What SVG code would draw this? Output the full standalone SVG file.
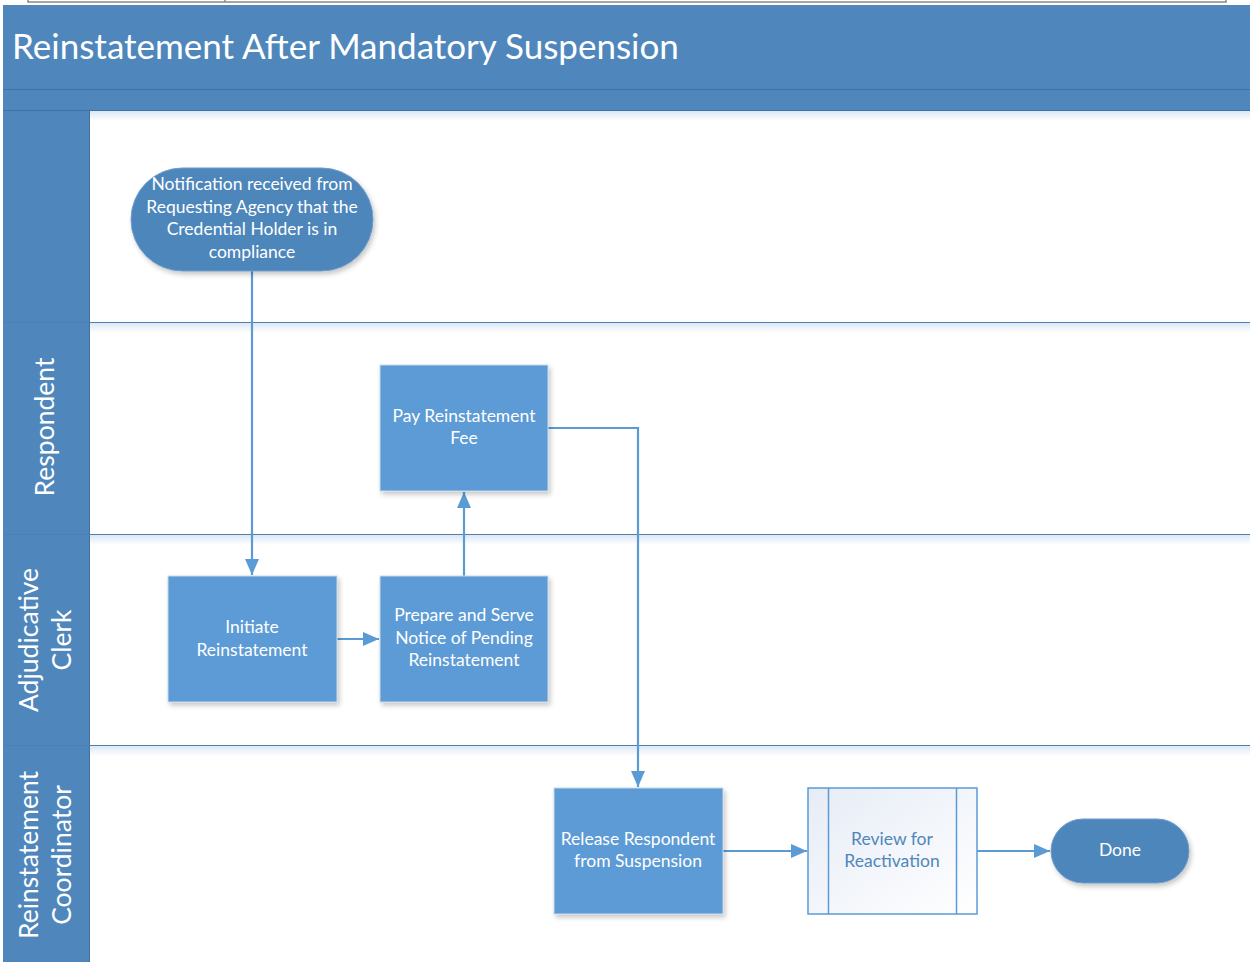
<svg xmlns="http://www.w3.org/2000/svg" width="1250" height="962" viewBox="0 0 1250 962">
  <style>
    .lbl { font-family: Lato, "Open Sans", "Liberation Sans", sans-serif; font-size: 17.5px; fill: #ffffff; text-anchor: middle; }
    .lane { font-family: Lato, "Open Sans", "Liberation Sans", sans-serif; font-size: 26.5px; fill: #ffffff; text-anchor: middle; }
    .proc { fill: #5B9BD5; stroke: #c9d9ea; stroke-width: 1; filter: url(#shadow); }
    .term { fill: #4E86BB; stroke: #6f9ccb; stroke-width: 1; filter: url(#shadow); }
    .sep { stroke: #4E7FB0; stroke-width: 1.2; }
    .conn { fill: none; stroke: #5B9BD5; stroke-width: 2.2; }
  </style>
  <defs>
    <filter id="shadow" x="-20%" y="-20%" width="150%" height="150%">
      <feDropShadow dx="2" dy="3" stdDeviation="2.5" flood-color="#000" flood-opacity="0.22"/>
    </filter>
    <linearGradient id="laneGlow" x1="0" y1="0" x2="0" y2="1">
      <stop offset="0" stop-color="#dce8f4"/>
      <stop offset="1" stop-color="#ffffff"/>
    </linearGradient>
    <linearGradient id="subFill" x1="0" y1="0" x2="1" y2="1">
      <stop offset="0" stop-color="#e6ecf6"/>
      <stop offset="1" stop-color="#ffffff"/>
    </linearGradient>
    <marker id="arrow" viewBox="0 0 16 14" refX="16" refY="7" markerWidth="16" markerHeight="14" markerUnits="userSpaceOnUse" orient="auto">
      <path d="M0,0 L16,7 L0,14 z" fill="#5B9BD5"/>
    </marker>
  </defs>

  <rect x="0" y="0" width="1250" height="962" fill="#ffffff"/>

  <!-- frame fragment at the very top -->
  <rect x="28" y="-3" width="1198" height="5" fill="none" stroke="#888" stroke-width="1.5"/>
  <line x1="225" y1="-3" x2="225" y2="2" stroke="#888" stroke-width="1.5"/>

  <!-- header -->
  <g id="header">
    <rect x="3" y="5" width="1247" height="106" fill="#4F87BC"/>
    <line x1="3" y1="89.5" x2="1250" y2="89.5" stroke="#3f72a3" stroke-width="1.2"/>
    <line x1="3" y1="110.5" x2="1250" y2="110.5" stroke="#3f72a3" stroke-width="1.2"/>
    <text x="12" y="59" font-family="Lato, 'Open Sans', 'Liberation Sans', sans-serif" font-size="35" fill="#ffffff">Reinstatement After Mandatory Suspension</text>
  </g>

  <!-- swimlanes -->
  <g id="lanes">
    <rect x="89" y="111" width="1161" height="10" fill="url(#laneGlow)"/>
    <rect x="89" y="323" width="1161" height="10" fill="url(#laneGlow)"/>
    <rect x="89" y="535" width="1161" height="10" fill="url(#laneGlow)"/>
    <rect x="89" y="746" width="1161" height="10" fill="url(#laneGlow)"/>
    <rect x="3" y="111" width="86" height="851" fill="#4F87BC"/>
    <line x1="89.5" y1="111" x2="89.5" y2="962" stroke="#3f72a3" stroke-width="1"/>
    <line class="sep" x1="3" y1="322.5" x2="1250" y2="322.5"/>
    <line class="sep" x1="3" y1="534.5" x2="1250" y2="534.5"/>
    <line class="sep" x1="3" y1="745.5" x2="1250" y2="745.5"/>
    <text class="lane" transform="translate(54,427) rotate(-90)">Respondent</text>
    <text class="lane" transform="translate(38,640) rotate(-90)">Adjudicative</text>
    <text class="lane" transform="translate(71,640) rotate(-90)">Clerk</text>
    <text class="lane" transform="translate(38,855) rotate(-90)">Reinstatement</text>
    <text class="lane" transform="translate(71,855) rotate(-90)">Coordinator</text>
  </g>

  <!-- connectors -->
  <g id="connectors">
    <path class="conn" d="M252,271 L252,575" marker-end="url(#arrow)"/>
    <path class="conn" d="M337,639 L379,639" marker-end="url(#arrow)"/>
    <path class="conn" d="M464,576 L464,492" marker-end="url(#arrow)"/>
    <path class="conn" d="M548,428 L638,428 L638,787" marker-end="url(#arrow)"/>
    <path class="conn" d="M723,851 L807,851" marker-end="url(#arrow)"/>
    <path class="conn" d="M977,851 L1050,851" marker-end="url(#arrow)"/>
  </g>

  <!-- nodes -->
  <g id="start">
    <rect class="term" x="131" y="168" width="242" height="103" rx="51.5" ry="51.5"/>
    <text class="lbl" x="252" y="190">Notification received from</text>
    <text class="lbl" x="252" y="213">Requesting Agency that the</text>
    <text class="lbl" x="252" y="235">Credential Holder is in</text>
    <text class="lbl" x="252" y="258">compliance</text>
  </g>

  <g id="pay-fee">
    <rect class="proc" x="380" y="365" width="168" height="126"/>
    <text class="lbl" x="464" y="422">Pay Reinstatement</text>
    <text class="lbl" x="464" y="444">Fee</text>
  </g>

  <g id="initiate">
    <rect class="proc" x="168" y="576" width="169" height="126"/>
    <text class="lbl" x="252" y="633">Initiate</text>
    <text class="lbl" x="252" y="656">Reinstatement</text>
  </g>

  <g id="prepare-notice">
    <rect class="proc" x="380" y="576" width="168" height="126"/>
    <text class="lbl" x="464" y="621">Prepare and Serve</text>
    <text class="lbl" x="464" y="644">Notice of Pending</text>
    <text class="lbl" x="464" y="666">Reinstatement</text>
  </g>

  <g id="release">
    <rect class="proc" x="554" y="788" width="169" height="126"/>
    <text class="lbl" x="638" y="845">Release Respondent</text>
    <text class="lbl" x="638" y="867">from Suspension</text>
  </g>

  <g id="review">
    <rect x="808" y="788" width="169" height="126" fill="url(#subFill)" stroke="#5B9BD5" stroke-width="1.5"/>
    <line x1="828.5" y1="788" x2="828.5" y2="914" stroke="#5B9BD5" stroke-width="1.5"/>
    <line x1="956.5" y1="788" x2="956.5" y2="914" stroke="#5B9BD5" stroke-width="1.5"/>
    <text class="lbl" x="892" y="845" style="fill:#4F87BC">Review for</text>
    <text class="lbl" x="892" y="867" style="fill:#4F87BC">Reactivation</text>
  </g>

  <g id="done">
    <rect class="term" x="1051" y="819" width="138" height="64" rx="32" ry="32"/>
    <text class="lbl" x="1120" y="856">Done</text>
  </g>
</svg>
